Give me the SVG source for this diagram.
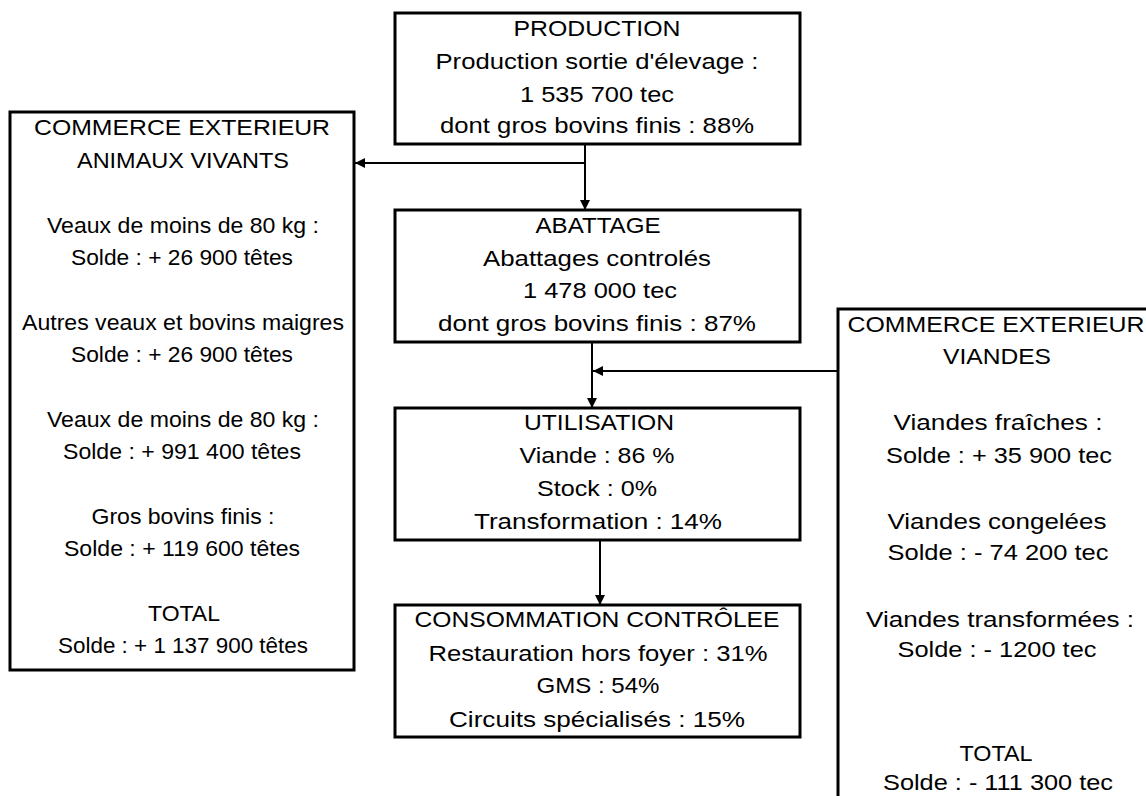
<svg xmlns="http://www.w3.org/2000/svg" width="1146" height="796" viewBox="0 0 1146 796">
  <defs>
    <marker id="arrow" viewBox="0 0 10 10" refX="10" refY="5" markerWidth="5" markerHeight="5" orient="auto" markerUnits="strokeWidth">
      <path d="M0,0 L10,5 L0,10 Z" fill="#000"/>
    </marker>
  </defs>
  <style>
    .box { fill: #fff; stroke: #000; stroke-width: 3; }
    .lbl { font-family: "Liberation Sans", Arial, sans-serif; font-size: 22px; fill: #000; text-anchor: middle; }
    .wire { fill: none; stroke: #000; stroke-width: 2; }
  </style>
  <rect width="1146" height="796" fill="#fff"/>

  <!-- Flow connectors -->
  <g id="connectors">
    <line class="wire" x1="585" y1="144" x2="585" y2="210" marker-end="url(#arrow)"/>
    <line class="wire" x1="585" y1="163" x2="355" y2="163" marker-end="url(#arrow)"/>
    <line class="wire" x1="592" y1="342" x2="592" y2="408" marker-end="url(#arrow)"/>
    <line class="wire" x1="838" y1="371" x2="593" y2="371" marker-end="url(#arrow)"/>
    <line class="wire" x1="600" y1="540" x2="600" y2="605" marker-end="url(#arrow)"/>
  </g>

  <!-- Production -->
  <g id="production">
    <rect class="box" x="395" y="13" width="405" height="131"/>
    <text class="lbl" x="597" y="36" textLength="167" lengthAdjust="spacingAndGlyphs">PRODUCTION</text>
    <text class="lbl" x="597" y="69" textLength="323" lengthAdjust="spacingAndGlyphs">Production sortie d'élevage :</text>
    <text class="lbl" x="597" y="102" textLength="154" lengthAdjust="spacingAndGlyphs">1 535 700 tec</text>
    <text class="lbl" x="597" y="133" textLength="314" lengthAdjust="spacingAndGlyphs">dont gros bovins finis : 88%</text>
  </g>

  <!-- Abattage -->
  <g id="abattage">
    <rect class="box" x="395" y="210" width="405" height="132"/>
    <text class="lbl" x="598" y="233" textLength="125" lengthAdjust="spacingAndGlyphs">ABATTAGE</text>
    <text class="lbl" x="597" y="266" textLength="228" lengthAdjust="spacingAndGlyphs">Abattages controlés</text>
    <text class="lbl" x="600" y="298" textLength="154" lengthAdjust="spacingAndGlyphs">1 478 000 tec</text>
    <text class="lbl" x="597" y="331" textLength="318" lengthAdjust="spacingAndGlyphs">dont gros bovins finis : 87%</text>
  </g>

  <!-- Utilisation -->
  <g id="utilisation">
    <rect class="box" x="395" y="408" width="405" height="132"/>
    <text class="lbl" x="599" y="430" textLength="150" lengthAdjust="spacingAndGlyphs">UTILISATION</text>
    <text class="lbl" x="597" y="463" textLength="155" lengthAdjust="spacingAndGlyphs">Viande : 86 %</text>
    <text class="lbl" x="597" y="496" textLength="120" lengthAdjust="spacingAndGlyphs">Stock : 0%</text>
    <text class="lbl" x="598" y="529" textLength="248" lengthAdjust="spacingAndGlyphs">Transformation : 14%</text>
  </g>

  <!-- Consommation contrôlée -->
  <g id="consommation">
    <rect class="box" x="395" y="605" width="405" height="132"/>
    <text class="lbl" x="597" y="627" textLength="365" lengthAdjust="spacingAndGlyphs">CONSOMMATION CONTRÔLEE</text>
    <text class="lbl" x="598" y="661" textLength="339" lengthAdjust="spacingAndGlyphs">Restauration hors foyer : 31%</text>
    <text class="lbl" x="598" y="693" textLength="123" lengthAdjust="spacingAndGlyphs">GMS : 54%</text>
    <text class="lbl" x="597" y="727" textLength="296" lengthAdjust="spacingAndGlyphs">Circuits spécialisés : 15%</text>
  </g>

  <!-- Commerce extérieur : animaux vivants -->
  <g id="commerce-animaux">
    <rect class="box" x="10" y="112" width="344" height="558"/>
    <text class="lbl" x="182" y="135" textLength="296" lengthAdjust="spacingAndGlyphs">COMMERCE EXTERIEUR</text>
    <text class="lbl" x="183" y="168" textLength="212" lengthAdjust="spacingAndGlyphs">ANIMAUX VIVANTS</text>
    <text class="lbl" x="183" y="233" textLength="272" lengthAdjust="spacingAndGlyphs">Veaux de moins de 80 kg :</text>
    <text class="lbl" x="182" y="265" textLength="222" lengthAdjust="spacingAndGlyphs">Solde : + 26 900 têtes</text>
    <text class="lbl" x="183" y="330" textLength="322" lengthAdjust="spacingAndGlyphs">Autres veaux et bovins maigres</text>
    <text class="lbl" x="182" y="362" textLength="222" lengthAdjust="spacingAndGlyphs">Solde : + 26 900 têtes</text>
    <text class="lbl" x="183" y="427" textLength="272" lengthAdjust="spacingAndGlyphs">Veaux de moins de 80 kg :</text>
    <text class="lbl" x="182" y="459" textLength="238" lengthAdjust="spacingAndGlyphs">Solde : + 991 400 têtes</text>
    <text class="lbl" x="183" y="524" textLength="183" lengthAdjust="spacingAndGlyphs">Gros bovins finis :</text>
    <text class="lbl" x="182" y="556" textLength="236" lengthAdjust="spacingAndGlyphs">Solde : + 119 600 têtes</text>
    <text class="lbl" x="184" y="621" textLength="72" lengthAdjust="spacingAndGlyphs">TOTAL</text>
    <text class="lbl" x="183" y="653" textLength="250" lengthAdjust="spacingAndGlyphs">Solde : + 1 137 900 têtes</text>
  </g>

  <!-- Commerce extérieur : viandes -->
  <g id="commerce-viandes">
    <rect class="box" x="838" y="309" width="330" height="520"/>
    <text class="lbl" x="996" y="332" textLength="297" lengthAdjust="spacingAndGlyphs">COMMERCE EXTERIEUR</text>
    <text class="lbl" x="997" y="364" textLength="108" lengthAdjust="spacingAndGlyphs">VIANDES</text>
    <text class="lbl" x="998" y="430" textLength="209" lengthAdjust="spacingAndGlyphs">Viandes fraîches :</text>
    <text class="lbl" x="999" y="463" textLength="226" lengthAdjust="spacingAndGlyphs">Solde : + 35 900 tec</text>
    <text class="lbl" x="997" y="529" textLength="219" lengthAdjust="spacingAndGlyphs">Viandes congelées</text>
    <text class="lbl" x="998" y="560" textLength="221" lengthAdjust="spacingAndGlyphs">Solde : - 74 200 tec</text>
    <text class="lbl" x="1000" y="627" textLength="268" lengthAdjust="spacingAndGlyphs">Viandes transformées :</text>
    <text class="lbl" x="997" y="657" textLength="199" lengthAdjust="spacingAndGlyphs">Solde : - 1200 tec</text>
    <text class="lbl" x="996" y="761" textLength="73" lengthAdjust="spacingAndGlyphs">TOTAL</text>
    <text class="lbl" x="998" y="790" textLength="230" lengthAdjust="spacingAndGlyphs">Solde : - 111 300 tec</text>
  </g>
</svg>
